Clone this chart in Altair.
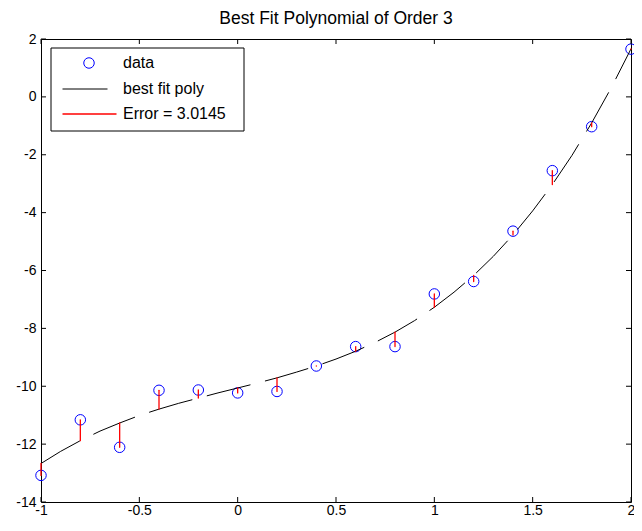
import altair as alt
import pandas as pd

# ---- data ----
x_data = [-1.0, -0.8, -0.6, -0.4, -0.2, 0.0, 0.2, 0.4, 0.6, 0.8, 1.0, 1.2, 1.4, 1.6, 1.8, 2.0]
y_data = [-13.08, -11.16, -12.11, -10.14, -10.13, -10.23, -10.18, -9.30, -8.63, -8.63,
          -6.81, -6.38, -4.64, -2.55, -1.03, 1.65]

x_fit = [-1.0, -0.9, -0.8, -0.7, -0.6, -0.5, -0.4, -0.3, -0.2, -0.1, 0.0, 0.1, 0.2, 0.3, 0.4, 0.5,
         0.6, 0.7, 0.8, 0.9, 1.0, 1.1, 1.2, 1.3, 1.4, 1.5, 1.6, 1.7, 1.8, 1.9, 2.0]
y_fit = [-12.67, -12.25, -11.88, -11.55, -11.27, -11.01, -10.79, -10.59, -10.41, -10.23, -10.06,
         -9.89, -9.71, -9.51, -9.30, -9.06, -8.79, -8.48, -8.13, -7.73, -7.27, -6.75, -6.17,
         -5.51, -4.77, -3.94, -3.03, -2.02, -0.90, 0.32, 1.66]

x_ticks = [-1, -0.5, 0, 0.5, 1, 1.5, 2]
y_ticks = [-14, -12, -10, -8, -6, -4, -2, 0, 2]

legend_labels = ["data", "best fit poly", "Error = 3.0145"]
title_text = "Best Fit Polynomial of Order 3"

# ---- tables ----
fit_at_data = [y_fit[x_fit.index(v)] for v in x_data]
pts = pd.DataFrame({"x": x_data, "y": y_data, "yfit": fit_at_data})
fit_df = pd.DataFrame({"x": x_fit, "y": y_fit})
xt_df = pd.DataFrame({"x": x_ticks})
yt_df = pd.DataFrame({"y": y_ticks})
one = pd.DataFrame({"k": [0]})

W, H = 590, 463
PAD_L, PAD_T, PAD_R, PAD_B = 33, 31, 3, 17   # total 626 x 511 fits the page without scrolling
FONT = "Liberation Sans"

xscale = alt.Scale(domain=[-1, 2], nice=False, zero=False)
yscale = alt.Scale(domain=[-14, 2], nice=False, zero=False)
xaxis = alt.Axis(values=x_ticks, title=None, grid=False, domain=False, tickSize=0,
                 labelPadding=1, labelFont=FONT, labelFontSize=14, labelColor="black",
                 labelExpr="'' + datum.value", labelFlush=False, labelOverlap=False)
yaxis = alt.Axis(values=y_ticks, title=None, grid=False, domain=False, tickSize=0,
                 labelPadding=5, labelFont=FONT, labelFontSize=14, labelColor="black",
                 labelExpr="'' + datum.value", labelFlush=False, labelOverlap=False)


def X(f):
    return alt.X(f, type="quantitative", scale=xscale, axis=xaxis)


def Y(f):
    return alt.Y(f, type="quantitative", scale=yscale, axis=yaxis)


points = alt.Chart(pts).mark_point(shape="circle", filled=False, color="#0000ff",
                                   size=110, strokeWidth=1, opacity=1).encode(x=X("x"), y=Y("y"))

fit_line = alt.Chart(fit_df).mark_line(color="black", strokeWidth=1,
                                       strokeDash=[45, 15]).encode(x=X("x"), y=Y("y"))

errors = alt.Chart(pts).mark_rule(color="#ff0000", strokeWidth=1.3, strokeCap="round").encode(
    x=X("x"), y=Y("y"), y2="yfit")

# inward ticks (MATLAB style) on all four sides
xt_bottom = alt.Chart(xt_df).mark_rule(color="black").encode(x=X("x"), y=alt.value(H), y2=alt.value(H - 5))
xt_top = alt.Chart(xt_df).mark_rule(color="black").encode(x=X("x"), y=alt.value(0), y2=alt.value(5))
yt_left = alt.Chart(yt_df).mark_rule(color="black").encode(y=Y("y"), x=alt.value(0), x2=alt.value(5))
yt_right = alt.Chart(yt_df).mark_rule(color="black").encode(y=Y("y"), x=alt.value(W), x2=alt.value(W - 5))

# legend box (positions relative to the plot area)
leg_box = alt.Chart(one).mark_rect(fill="white", stroke="black", strokeWidth=1).encode(
    x=alt.value(10), x2=alt.value(203), y=alt.value(9), y2=alt.value(92))
leg_pt = alt.Chart(one).mark_point(shape="circle", filled=False, color="#0000ff", size=110,
                                   strokeWidth=1, opacity=1).encode(x=alt.value(48), y=alt.value(24))
leg_fit = alt.Chart(one).mark_rule(color="black", strokeWidth=1, strokeDash=[45, 15]).encode(
    x=alt.value(21.5), x2=alt.value(75.5), y=alt.value(50))
leg_err = alt.Chart(one).mark_rule(color="#ff0000", strokeWidth=1.3).encode(
    x=alt.value(21.5), x2=alt.value(75.5), y=alt.value(75))
leg_texts = [
    alt.Chart(one).mark_text(align="left", baseline="middle", font=FONT, fontSize=16,
                             color="black").encode(x=alt.value(82), y=alt.value(yy),
                                                   text=alt.value(lbl))
    for lbl, yy in zip(legend_labels, [24, 50, 75])
]

chart = alt.layer(
    points, fit_line, errors, xt_bottom, xt_top, yt_left, yt_right,
    leg_box, leg_pt, leg_fit, leg_err, *leg_texts
).properties(
    width=W, height=H,
    title=alt.TitleParams(title_text, font=FONT, fontSize=17.5, fontWeight="normal",
                          color="black", anchor="middle", offset=5),
    autosize=alt.AutoSizeParams(type="none"),
    padding={"left": PAD_L, "top": PAD_T, "right": PAD_R, "bottom": PAD_B},
).configure_view(stroke="black", strokeWidth=1)

chart.save("out.html", embed_options={"renderer": "svg", "actions": False})
